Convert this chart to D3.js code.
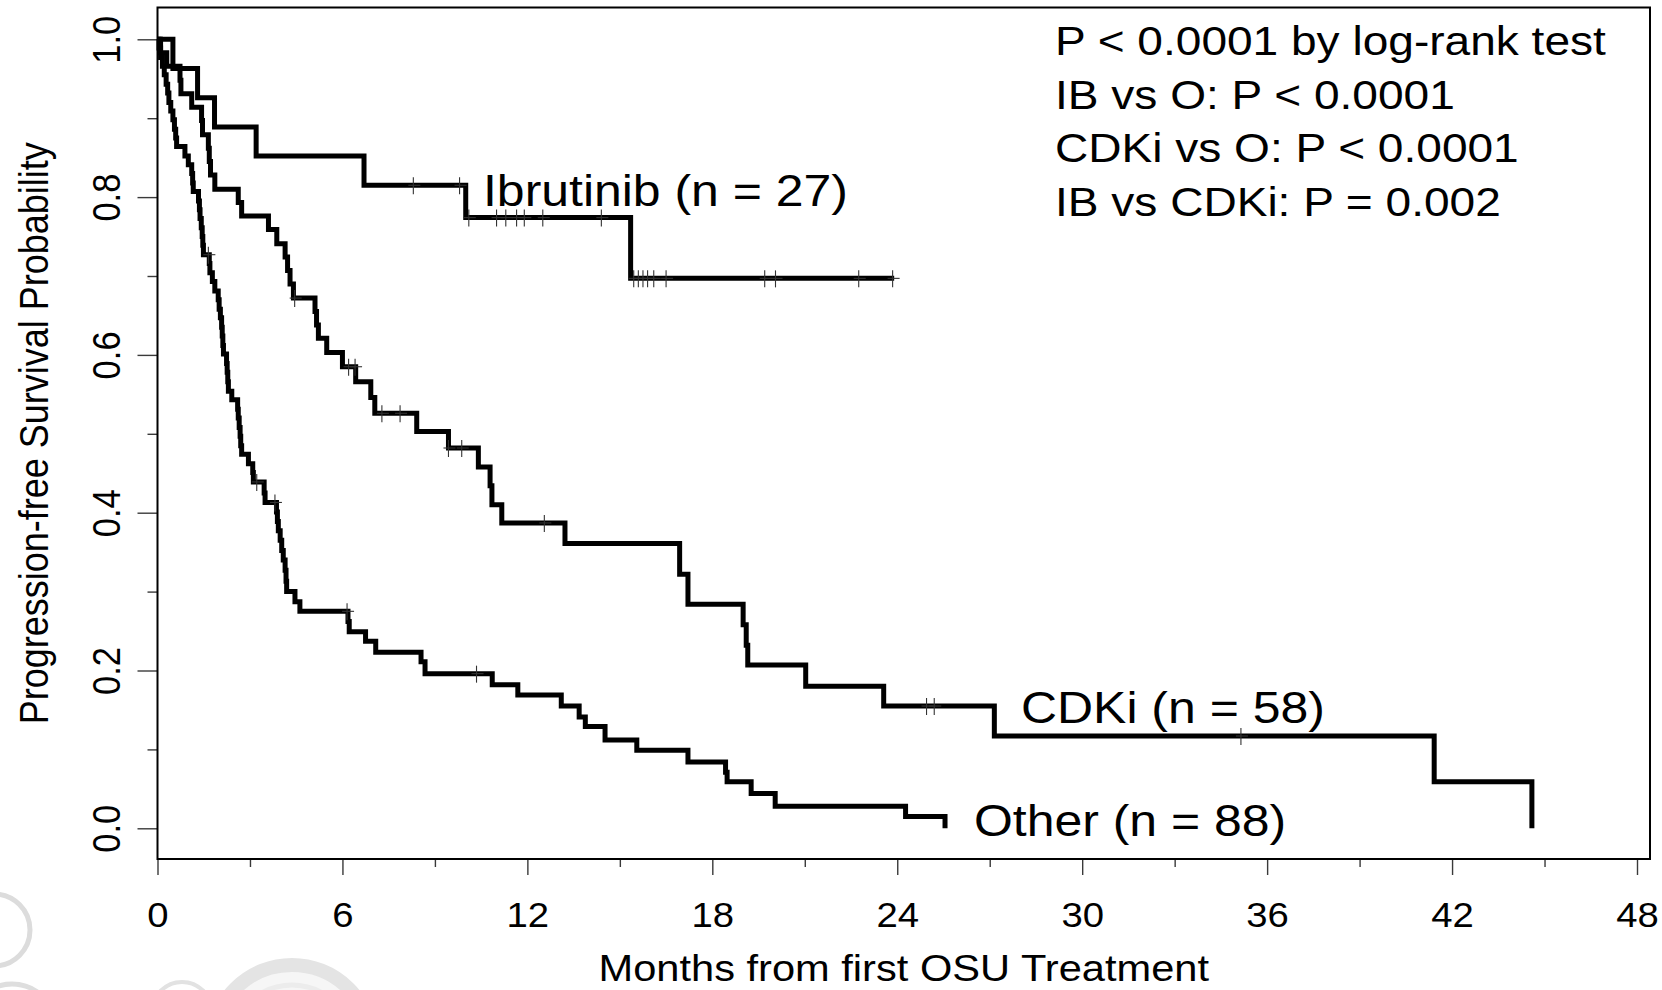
<!DOCTYPE html>
<html>
<head>
<meta charset="utf-8">
<script src="https://cdn.jsdelivr.net/npm/d3@7"></script>
<style>
  html, body { margin: 0; padding: 0; background: #fff; }
  svg { display: block; }
</style>
</head>
<body>
<svg id="chart" width="1662" height="990"></svg>
<script>
// ---- Axis ticks ----
const monthTicks = [0, 6, 12, 18, 24, 30, 36, 42, 48];
const monthTickLabels = ["0", "6", "12", "18", "24", "30", "36", "42", "48"];
const monthMinorTicks = [3, 9, 15, 21, 27, 33, 39, 45];
const probTicks = [0, 0.2, 0.4, 0.6, 0.8, 1.0];
const probTickLabels = ["0.0", "0.2", "0.4", "0.6", "0.8", "1.0"];
const probMinorTicks = [0.1, 0.3, 0.5, 0.7, 0.9];

// ---- Ibrutinib (n = 27): event times (months) and survival after each event ----
const ibrTimes = [0.5, 1.3, 1.85, 3.2, 6.7, 10.0, 15.35];
const ibrSurv  = [0.963, 0.926, 0.889, 0.852, 0.815, 0.774, 0.697];
const ibrCensored = [8.3, 9.8, 10.1, 11.0, 11.3, 11.65, 11.9, 12.5, 14.4,
                     15.45, 15.6, 15.75, 15.9, 16.1, 16.5, 19.7, 20.05, 22.75, 23.85];
const ibrLastFollowUp = 23.9;

// ---- CDKi (n = 58) ----
const cdkTimes = [0.1, 0.3, 0.73, 0.76, 1.11, 1.43, 1.46, 1.65, 1.68, 1.72,
                  1.86, 2.62, 2.73, 3.60, 3.87, 4.14, 4.22, 4.30, 4.41, 5.11,
                  5.16, 5.22, 5.49, 6.0, 6.43, 6.92, 7.05, 8.41, 9.44, 10.41,
                  10.79, 10.85, 11.17, 13.22, 16.94, 17.21, 19.0, 19.1, 19.15, 21.03,
                  23.56, 27.15, 41.42, 44.59];
const cdkSurv  = [0.983, 0.966, 0.948, 0.931, 0.914, 0.897, 0.879, 0.862, 0.845, 0.828,
                  0.810, 0.793, 0.776, 0.759, 0.741, 0.724, 0.707, 0.690, 0.672, 0.655,
                  0.638, 0.621, 0.603, 0.585, 0.566, 0.546, 0.526, 0.503, 0.482, 0.458,
                  0.434, 0.410, 0.387, 0.361, 0.322, 0.284, 0.258, 0.232, 0.207, 0.180,
                  0.155, 0.117, 0.059, 0.0];
const cdkCensored = [4.45, 6.2, 6.41, 7.28, 7.87, 9.44, 9.87, 12.55, 24.95, 25.2, 35.15];
const cdkLastFollowUp = 44.59;

// ---- Other (n = 88) ----
const othTimes = [0.05, 0.10, 0.16, 0.22, 0.28, 0.33, 0.37, 0.43, 0.50, 0.55,
                  0.59, 0.62, 0.89, 1.00, 1.11, 1.14, 1.16, 1.33, 1.36, 1.38,
                  1.42, 1.45, 1.47, 1.49, 1.68, 1.70, 1.78, 1.86, 1.97, 2.00,
                  2.04, 2.08, 2.10, 2.12, 2.14, 2.24, 2.26, 2.28, 2.30, 2.41,
                  2.60, 2.62, 2.65, 2.68, 2.70, 2.73, 2.95, 3.09, 3.11, 3.46,
                  3.49, 3.86, 3.89, 3.92, 3.98, 4.03, 4.08, 4.14, 4.17, 4.19,
                  4.46, 4.62, 6.18, 6.22, 6.75, 7.08, 8.55, 8.68, 10.86, 11.69,
                  13.10, 13.68, 13.88, 14.52, 15.55, 17.21, 18.43, 18.48, 19.26, 20.04,
                  24.27, 25.55];
const othSurv  = [0.989, 0.977, 0.966, 0.955, 0.943, 0.932, 0.920, 0.909, 0.898, 0.886,
                  0.875, 0.864, 0.852, 0.841, 0.830, 0.818, 0.807, 0.795, 0.784, 0.773,
                  0.761, 0.750, 0.739, 0.727, 0.716, 0.704, 0.693, 0.681, 0.670, 0.658,
                  0.647, 0.635, 0.624, 0.612, 0.601, 0.589, 0.578, 0.566, 0.554, 0.543,
                  0.531, 0.520, 0.508, 0.497, 0.485, 0.474, 0.462, 0.451, 0.439, 0.425,
                  0.413, 0.401, 0.389, 0.377, 0.365, 0.352, 0.340, 0.327, 0.313, 0.300,
                  0.287, 0.275, 0.262, 0.249, 0.237, 0.223, 0.211, 0.196, 0.182, 0.169,
                  0.155, 0.141, 0.129, 0.112, 0.099, 0.084, 0.071, 0.059, 0.044, 0.028,
                  0.015, 0.000];
const othCensored = [1.65, 3.22, 3.81, 6.15, 10.35];
const othLastFollowUp = 25.55;

// ---- Annotations ----
const groupLabels = ["Ibrutinib (n = 27)", "CDKi (n = 58)", "Other (n = 88)"];
const pValueLines = ["P < 0.0001 by log-rank test", "IB vs O: P < 0.0001",
                     "CDKi vs O: P < 0.0001", "IB vs CDKi: P = 0.002"];
const xTitle = "Months from first OSU Treatment";
const yTitle = "Progression-free Survival Probability";

// ---- Layout ----
const FONT = '"Liberation Sans", Arial, Helvetica, sans-serif';
const SX = 1.11;                     // horizontal glyph stretch
const frame = { left: 157.5, right: 1650, top: 7.5, bottom: 859 };

const svg = d3.select("#chart");
svg.append("rect").attr("width", 1662).attr("height", 990).attr("fill", "#fff");

// faint background rings, lower left
const rings = svg.append("g").attr("fill", "none");
rings.append("circle").attr("cx", -6).attr("cy", 930).attr("r", 36)
  .attr("stroke", "#dcdcdc").attr("stroke-width", 5);
rings.append("circle").attr("cx", 12).attr("cy", 1028).attr("r", 44)
  .attr("stroke", "#dedede").attr("stroke-width", 5);
rings.append("circle").attr("cx", 182).attr("cy", 1012).attr("r", 30)
  .attr("stroke", "#e2e2e2").attr("stroke-width", 4);
rings.append("circle").attr("cx", 292).attr("cy", 1045).attr("r", 80)
  .attr("stroke", "#e4e4e4").attr("stroke-width", 14).attr("fill", "#f6f6f6");
rings.append("circle").attr("cx", 292).attr("cy", 1045).attr("r", 60)
  .attr("stroke", "#ececec").attr("stroke-width", 5);

const x = d3.scaleLinear().domain([0, 48]).range([157.5, 1637]);
const y = d3.scaleLinear().domain([0, 1]).range([828.3, 39.3]);

// ---- Axes ----
function styleTicks(g) {
  g.attr("font-family", FONT);
  g.select(".domain").remove();
  g.selectAll(".tick line").attr("stroke", "#3a3a3a").attr("stroke-width", 1.4);
}

const gx = svg.append("g").attr("transform", `translate(0,${frame.bottom})`)
  .call(d3.axisBottom(x).tickValues(monthTicks).tickSize(16)
        .tickFormat((d, i) => monthTickLabels[i]));
styleTicks(gx);
gx.selectAll(".tick text")
  .attr("y", 0).attr("dy", null)
  .attr("transform", `translate(0,68) scale(${SX},1)`)
  .attr("font-size", 34.5).attr("fill", "#000");

const gxm = svg.append("g").attr("transform", `translate(0,${frame.bottom})`)
  .call(d3.axisBottom(x).tickValues(monthMinorTicks).tickSize(8).tickFormat(""));
styleTicks(gxm);

const gy = svg.append("g").attr("transform", `translate(${frame.left},0)`)
  .call(d3.axisLeft(y).tickValues(probTicks).tickSize(20)
        .tickFormat((d, i) => probTickLabels[i]));
styleTicks(gy);
gy.selectAll(".tick text")
  .attr("x", 0).attr("dy", null)
  .attr("text-anchor", "middle")
  .attr("transform", `translate(-38,0) rotate(-90) scale(1,${SX})`)
  .attr("font-size", 34.5).attr("fill", "#000");

const gym = svg.append("g").attr("transform", `translate(${frame.left},0)`)
  .call(d3.axisLeft(y).tickValues(probMinorTicks).tickSize(10).tickFormat(""));
styleTicks(gym);

// plot frame
svg.append("rect")
  .attr("x", frame.left).attr("y", frame.top)
  .attr("width", frame.right - frame.left).attr("height", frame.bottom - frame.top)
  .attr("fill", "none").attr("stroke", "#000").attr("stroke-width", 2);

// axis titles
svg.append("text")
  .attr("transform", `translate(${(frame.left + frame.right) / 2},981) scale(${SX},1)`)
  .attr("text-anchor", "middle").attr("font-family", FONT).attr("font-size", 37.5)
  .text(xTitle);
svg.append("text")
  .attr("transform", `translate(48,${(frame.top + frame.bottom) / 2}) rotate(-90) scale(1,${SX})`)
  .attr("text-anchor", "middle").attr("font-family", FONT).attr("font-size", 36)
  .text(yTitle);

// ---- Kaplan-Meier curves ----
function survAt(times, surv, t) {
  let s = 1;
  for (let i = 0; i < times.length; i++) {
    if (times[i] <= t) s = surv[i]; else break;
  }
  return s;
}

const stepLine = d3.line()
  .x(d => x(d[0])).y(d => y(d[1]))
  .curve(d3.curveStepAfter);

const groups = [
  { times: othTimes, surv: othSurv, cens: othCensored, last: othLastFollowUp },
  { times: cdkTimes, surv: cdkSurv, cens: cdkCensored, last: cdkLastFollowUp },
  { times: ibrTimes, surv: ibrSurv, cens: ibrCensored, last: ibrLastFollowUp }
];

const curves = svg.append("g");
groups.forEach(g => {
  const pts = [[0, 1]].concat(g.times.map((t, i) => [t, g.surv[i]]));
  const lastT = g.times[g.times.length - 1];
  if (g.last > lastT) pts.push([g.last, g.surv[g.surv.length - 1]]);
  curves.append("path")
    .attr("d", stepLine(pts))
    .attr("fill", "none").attr("stroke", "#000")
    .attr("stroke-width", 5)
    .attr("stroke-linejoin", "miter").attr("stroke-linecap", "butt");

  // censoring marks
  const marks = curves.append("g").attr("stroke", "#333").attr("stroke-width", 1.1);
  g.cens.forEach(t => {
    const cx = x(t), cy = y(survAt(g.times, g.surv, t));
    marks.append("line").attr("x1", cx).attr("x2", cx).attr("y1", cy - 8).attr("y2", cy + 9);
    marks.append("line").attr("x1", cx - 5).attr("x2", cx + 7).attr("y1", cy).attr("y2", cy);
  });
});

// group labels
const labelPos = [[483, 206], [1021, 723], [974, 836]];
groupLabels.forEach((s, i) => {
  svg.append("text")
    .attr("transform", `translate(${labelPos[i][0]},${labelPos[i][1]}) scale(${SX},1)`)
    .attr("font-family", FONT).attr("font-size", 45)
    .text(s);
});

// p-value block
pValueLines.forEach((s, i) => {
  svg.append("text")
    .attr("transform", `translate(1055,${55 + i * 53.7}) scale(${SX},1)`)
    .attr("font-family", FONT).attr("font-size", 41.5)
    .text(s);
});
</script>
</body>
</html>
